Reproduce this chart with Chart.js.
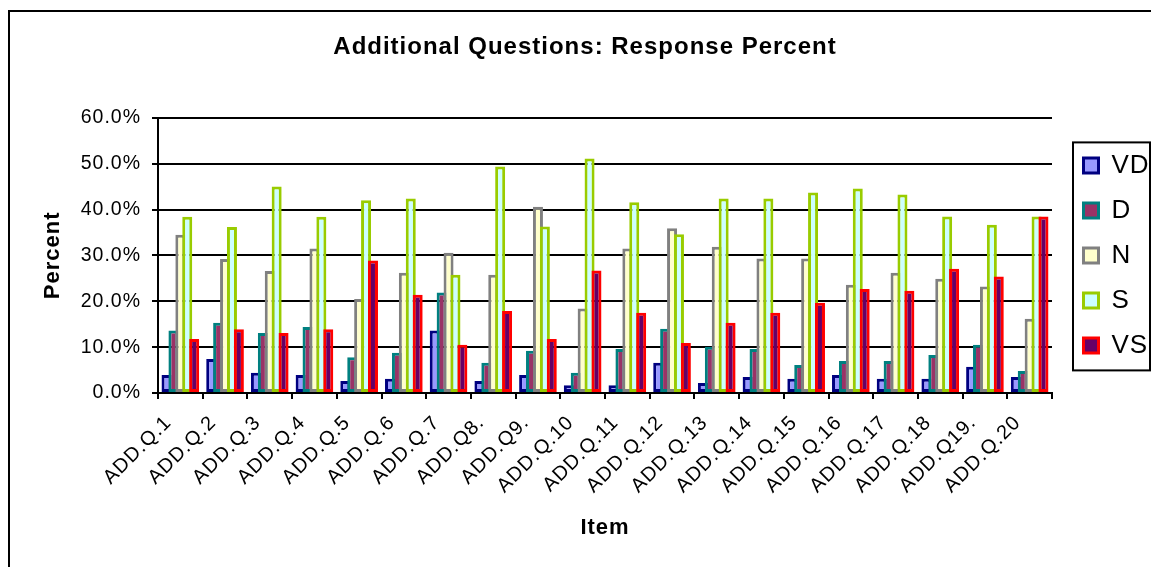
<!DOCTYPE html>
<html>
<head>
<meta charset="utf-8">
<title>Additional Questions: Response Percent</title>
<script src="https://cdn.jsdelivr.net/npm/chart.js@4.4.1/dist/chart.umd.min.js"></script>
<style>
  html, body { margin: 0; padding: 0; background: #fff; }
  canvas { display: block; }
</style>
</head>
<body>
<canvas id="c" width="1151" height="567"></canvas>
<script>
// Items on the x axis
const items = [
  'ADD.Q.1', 'ADD.Q.2', 'ADD.Q.3', 'ADD.Q.4', 'ADD.Q.5', 'ADD.Q.6', 'ADD.Q.7',
  'ADD.Q8.', 'ADD.Q9.', 'ADD.Q.10', 'ADD.Q.11', 'ADD.Q.12', 'ADD.Q.13', 'ADD.Q.14',
  'ADD.Q.15', 'ADD.Q.16', 'ADD.Q.17', 'ADD.Q.18', 'ADD.Q19.', 'ADD.Q.20'
];

// Response percent per answer category
const vd = [3.9, 7.4, 4.4, 3.9, 2.6, 3.1, 13.6, 2.6, 3.9, 1.7, 1.7, 6.6, 2.2, 3.5, 3.1, 3.9, 3.1, 3.1, 5.7, 3.5];
const d  = [13.6, 15.3, 13.1, 14.4, 7.8, 8.8, 21.9, 6.6, 9.2, 4.4, 9.6, 14.0, 10.1, 9.6, 6.1, 7.0, 7.0, 8.3, 10.5, 4.8];
const n  = [34.5, 29.2, 26.6, 31.5, 20.5, 26.2, 30.6, 25.8, 40.6, 18.4, 31.5, 35.9, 31.9, 29.3, 29.3, 23.6, 26.2, 24.9, 23.2, 16.2];
const s  = [38.4, 36.2, 45.0, 38.4, 42.0, 42.4, 25.8, 49.4, 36.3, 51.1, 41.6, 34.6, 42.4, 42.4, 43.7, 44.6, 43.3, 38.5, 36.7, 38.5];
const vs = [11.8, 13.9, 13.1, 13.9, 28.9, 21.4, 10.5, 17.9, 11.8, 26.7, 17.5, 10.9, 15.3, 17.5, 19.7, 22.7, 22.3, 27.1, 25.4, 38.5];

const seriesNames = ['VD', 'D', 'N', 'S', 'VS'];
const seriesValues = [vd, d, n, s, vs];
const fills   = ['#9999FF', '#993366', '#FFFFCC', '#CCFFFF', '#660066'];
const borders = ['#000080', '#008080', '#808080', '#99CC00', '#FF0000'];

// Percent axis ticks
const yTicks = [0, 10, 20, 30, 40, 50, 60];

const TEXT_SPACING = '1px';

// Slightly open lettering for every text run on the canvas
const letterSpacing = {
  id: 'letterSpacing',
  beforeInit(chart) { chart.ctx.letterSpacing = TEXT_SPACING; },
  beforeUpdate(chart) { chart.ctx.letterSpacing = TEXT_SPACING; },
  beforeDraw(chart) { chart.ctx.letterSpacing = TEXT_SPACING; }
};

// White page with the outer frame lines (left and top)
const frame = {
  id: 'frame',
  beforeDraw(chart) {
    const ctx = chart.ctx;
    ctx.save();
    ctx.fillStyle = '#fff';
    ctx.fillRect(0, 0, chart.width, chart.height);
    ctx.strokeStyle = '#000';
    ctx.lineWidth = 2;
    ctx.beginPath();
    ctx.moveTo(9, chart.height);
    ctx.lineTo(9, 11);
    ctx.lineTo(chart.width, 11);
    ctx.stroke();
    ctx.restore();
  }
};

// Draw series left to right so each bar overlaps the one before it
const overlapOrder = {
  id: 'overlapOrder',
  beforeDatasetsDraw(chart) {
    const metas = chart.getSortedVisibleDatasetMetas();
    for (const meta of metas) chart._drawDataset(meta);
    return false;
  }
};

// Box around the legend entries
const legendBox = {
  id: 'legendBox',
  afterDraw(chart) {
    const hb = chart.legend && chart.legend.legendHitBoxes;
    if (!hb || !hb.length) return;
    const first = hb[0], last = hb[hb.length - 1];
    const left = first.left - 10.5;
    const top = first.top - 10;
    const bottom = last.top + last.height + 12;
    const ctx = chart.ctx;
    ctx.save();
    ctx.strokeStyle = '#000';
    ctx.lineWidth = 2;
    ctx.strokeRect(left, top, chart.width - 1 - left, bottom - top);
    ctx.restore();
  }
};

Chart.defaults.font.family = '"Liberation Sans", Arial, sans-serif';
Chart.defaults.color = '#000';

const datasets = seriesNames.map((name, i) => ({
  label: name,
  data: seriesValues[i],
  backgroundColor: fills[i],
  borderColor: borders[i],
  borderWidth: 3,
  borderSkipped: false,
  categoryPercentage: 0.773,
  barPercentage: 1.45
}));

new Chart(document.getElementById('c'), {
  type: 'bar',
  data: { labels: items, datasets },
  options: {
    responsive: false,
    animation: false,
    events: [],
    layout: { padding: { left: 19, right: 0, top: 0, bottom: 0 } },
    plugins: {
      tooltip: { enabled: false },
      title: {
        display: true,
        text: 'Additional Questions: Response Percent',
        color: '#000',
        font: { size: 24, weight: 'bold' },
        padding: { top: 33, bottom: 56 }
      },
      legend: {
        position: 'right',
        align: 'center',
        fullSize: false,
        maxWidth: 86.5,
        labels: {
          color: '#000',
          font: { size: 26 },
          boxWidth: 15,
          boxHeight: 15,
          padding: 19
        }
      }
    },
    scales: {
      x: {
        offset: true,
        grid: {
          offset: true,
          drawOnChartArea: false,
          drawTicks: true,
          tickLength: 6,
          color: '#000',
          lineWidth: 2
        },
        border: { display: true, color: '#000', width: 2 },
        ticks: {
          autoSkip: false,
          minRotation: 45,
          maxRotation: 45,
          padding: 12,
          labelOffset: -12,
          color: '#000',
          font: { size: 20 }
        },
        title: {
          display: true,
          text: 'Item',
          color: '#000',
          font: { size: 22, weight: 'bold' },
          padding: { top: 0, bottom: 26 }
        },
        afterFit(scale) { scale.height = 174; }
      },
      y: {
        min: yTicks[0],
        max: yTicks[yTicks.length - 1],
        afterBuildTicks(scale) { scale.ticks = yTicks.map(v => ({ value: v })); },
        grid: { color: '#000', lineWidth: 2, tickLength: 6 },
        border: { display: true, color: '#000', width: 2 },
        ticks: {
          padding: 11,
          color: '#000',
          font: { size: 19.5 },
          callback: v => v.toFixed(1) + '%'
        },
        title: {
          display: true,
          text: 'Percent',
          color: '#000',
          font: { size: 22, weight: 'bold' },
          padding: { top: 21, bottom: 0 }
        },
        afterFit(scale) { scale.width = 139; }
      },
      gutter: {
        type: 'linear',
        position: 'right',
        display: true,
        grid: { display: false, drawTicks: false },
        ticks: { display: false },
        border: { display: false },
        afterFit(scale) { scale.width = 12.5; }
      }
    }
  },
  plugins: [letterSpacing, frame, overlapOrder, legendBox]
});
</script>
</body>
</html>
